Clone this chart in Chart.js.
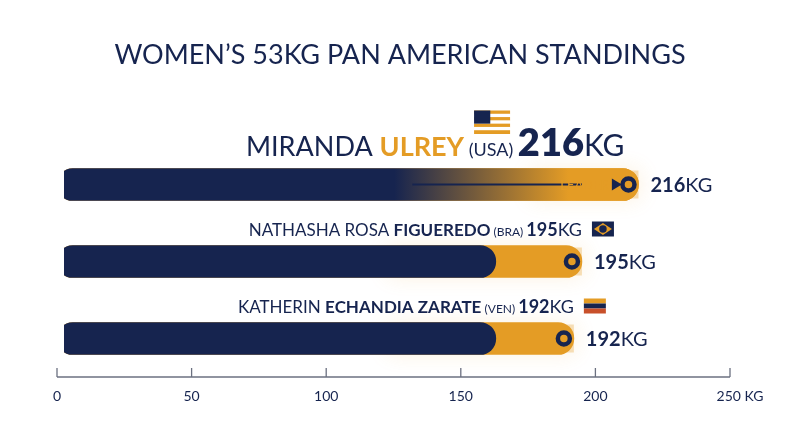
<!DOCTYPE html>
<html><head><meta charset="utf-8">
<script src="https://cdn.jsdelivr.net/npm/chart.js@4"></script>
<style>html,body{margin:0;background:#fff}#w{width:800px;height:447px;position:relative}</style>
</head><body><div id="w"><canvas id="c"></canvas></div>
<script>
const categories = ["ULREY","FIGUEREDO","ECHANDIA ZARATE"];
const firstNames = ["MIRANDA ","NATHASHA ROSA ","KATHERIN "];
const countries = ["USA","BRA","VEN"];
const totals = [216,195,192];
const baseNavy = [216,163,163];
const xTicks = [0,50,100,150,200,250];
const NAVY="#16244f", GOLD="#e49c25";
const FONT="Lato, 'Open Sans', sans-serif";

function flag(ctx,code,x,y,w,h){
  ctx.save();
  if(code==="USA"){
    for(let i=0;i<7;i++){ctx.fillStyle=i%2?'#fff':GOLD;ctx.fillRect(x,y+i*h/7,w,h/7+0.5);}
    ctx.fillStyle=NAVY;ctx.fillRect(x,y,w*0.45,h*4/7);
  }else if(code==="BRA"){
    ctx.fillStyle=NAVY;ctx.fillRect(x,y,w,h);
    ctx.fillStyle=GOLD;ctx.beginPath();ctx.moveTo(x+2,y+h/2);ctx.lineTo(x+w/2,y+1.5);ctx.lineTo(x+w-2,y+h/2);ctx.lineTo(x+w/2,y+h-1.5);ctx.closePath();ctx.fill();
    ctx.fillStyle=NAVY;ctx.beginPath();ctx.arc(x+w/2,y+h/2,h*0.25,0,7);ctx.fill();
  }else{
    ctx.fillStyle=GOLD;ctx.fillRect(x,y,w,h/3);
    ctx.fillStyle=NAVY;ctx.fillRect(x,y+h/3,w,h/3);
    ctx.fillStyle='#c8502a';ctx.fillRect(x,y+2*h/3,w,h/3);
  }
  ctx.restore();
}
function runs(ctx,parts,xRight,y){
  let tot=0;parts.forEach(p=>{ctx.font=p.f;p.w=ctx.measureText(p.t).width;tot+=p.w;});
  let x=xRight-tot;const starts=[];
  parts.forEach(p=>{ctx.font=p.f;ctx.fillStyle=p.c||NAVY;ctx.fillText(p.t,x,y);starts.push(x);x+=p.w;});
  return starts;
}
const deco={id:'deco',
  beforeDatasetsDraw(ch){const {ctx}=ch;const xs=ch.scales.x,ys=ch.scales.y;
    ctx.save();ctx.shadowColor='rgba(228,156,37,0.55)';ctx.shadowBlur=22;ctx.fillStyle='rgba(228,156,37,0.3)';
    totals.forEach((v,i)=>{const y=ys.getPixelForValue(i);const x0=xs.getPixelForValue(Math.min(baseNavy[i],v)-40);const x1=xs.getPixelForValue(v);ctx.fillRect(x0,y-14,x1-x0,28);});
    ctx.restore();},
  afterDraw(ch){const {ctx}=ch;const xs=ch.scales.x,ys=ch.scales.y;
    ctx.save();ctx.textBaseline='alphabetic';
    ctx.font="400 27px "+FONT;ctx.fillStyle=NAVY;ctx.textAlign='center';
    ctx.fillText("WOMEN\u2019S 53KG PAN AMERICAN STANDINGS",400,64);
    ctx.textAlign='left';
    totals.forEach((v,i)=>{
      const y=ys.getPixelForValue(i);const xe=xs.getPixelForValue(v);
      // dot
      ctx.beginPath();ctx.arc(xe-10,y,6,0,7);ctx.lineWidth=4.5;ctx.strokeStyle=NAVY;ctx.fillStyle=GOLD;ctx.fill();ctx.stroke();
      // right value
      ctx.textBaseline='middle';
      runs(ctx,[{t:String(v),f:"700 20px "+FONT},{t:"KG",f:"400 20px "+FONT}],0,y+1);
      ctx.font="700 20px "+FONT;const w1=ctx.measureText(String(v)).width;ctx.font="400 20px "+FONT;const w2=ctx.measureText("KG").width;
      ctx.clearRect(0,y-14,w1+w2+2,28);
      runs(ctx,[{t:String(v),f:"700 20px "+FONT},{t:"KG",f:"400 20px "+FONT}],xe+12+w1+w2,y+1);
      ctx.textBaseline='alphabetic';
      if(i===0){
        const st=runs(ctx,[{t:firstNames[i],f:"400 27px "+FONT},{t:categories[i],f:"700 27px "+FONT,c:GOLD},{t:" ("+countries[i]+") ",f:"400 18px "+FONT},{t:String(v),f:"800 38px "+FONT},{t:"KG",f:"400 30px "+FONT}],xe-14,y-29);
        flag(ctx,countries[i],st[2]+10,y-74,36,23);
        ctx.strokeStyle=NAVY;ctx.lineWidth=2;ctx.beginPath();ctx.moveTo(xs.getPixelForValue(132),y);ctx.lineTo(xs.getPixelForValue(195),y);ctx.stroke();
        ctx.font="400 13px "+FONT;ctx.fillStyle=GOLD;ctx.textBaseline='middle';ctx.textAlign='right';ctx.fillText("LEADER",xs.getPixelForValue(205),y+1);ctx.textAlign='left';
        const ax=xs.getPixelForValue(205)+3;ctx.fillStyle=NAVY;ctx.beginPath();ctx.moveTo(ax,y-6);ctx.lineTo(ax+10,y);ctx.lineTo(ax,y+6);ctx.fill();
      }else{
        const st=runs(ctx,[{t:firstNames[i],f:"400 17px "+FONT},{t:categories[i],f:"700 17px "+FONT},{t:" ("+countries[i]+") ",f:"400 12px "+FONT},{t:String(v),f:"700 18px "+FONT},{t:"KG",f:"400 18px "+FONT}],xe,y-26);
        flag(ctx,countries[i],xe+10,y-40,22,15);
      }
    });
    // axis
    const ay=ch.chartArea.bottom;ctx.strokeStyle='#6b7080';ctx.lineWidth=1.3;
    ctx.beginPath();ctx.moveTo(xs.getPixelForValue(0),ay);ctx.lineTo(xs.getPixelForValue(250),ay);ctx.stroke();
    ctx.font="400 14px "+FONT;ctx.fillStyle=NAVY;ctx.textAlign='center';ctx.textBaseline='middle';
    xTicks.forEach(t=>{const x=xs.getPixelForValue(t);ctx.beginPath();ctx.moveTo(x,ay);ctx.lineTo(x,ay-9);ctx.stroke();
      ctx.fillText(t===250?"250 KG":String(t),t===250?x+10:x,ay+19);});
    ctx.restore();}
};
new Chart(document.getElementById('c'),{
  type:'bar',
  data:{labels:categories,datasets:[
    {data:totals,backgroundColor:GOLD,borderRadius:20,borderSkipped:false,barThickness:32,grouped:false,order:2},
    {data:baseNavy,borderRadius:20,borderSkipped:false,barThickness:32,grouped:false,order:1,
     backgroundColor:(c)=>{if(c.dataIndex!==0)return NAVY;const ch=c.chart;if(!ch.chartArea)return NAVY;const xs=ch.scales.x;
       const g=ch.ctx.createLinearGradient(xs.getPixelForValue(0),0,xs.getPixelForValue(216),0);
       g.addColorStop(0,NAVY);g.addColorStop(0.58,NAVY);g.addColorStop(0.88,GOLD);g.addColorStop(1,GOLD);return g;}}
  ]},
  options:{indexAxis:'y',responsive:true,maintainAspectRatio:false,animation:false,
    layout:{padding:{left:57,right:70,top:146,bottom:70}},
    plugins:{legend:{display:false},tooltip:{enabled:false}},
    scales:{x:{min:0,max:250,display:false},y:{display:false}}},
  plugins:[deco]
});
</script></body></html>
